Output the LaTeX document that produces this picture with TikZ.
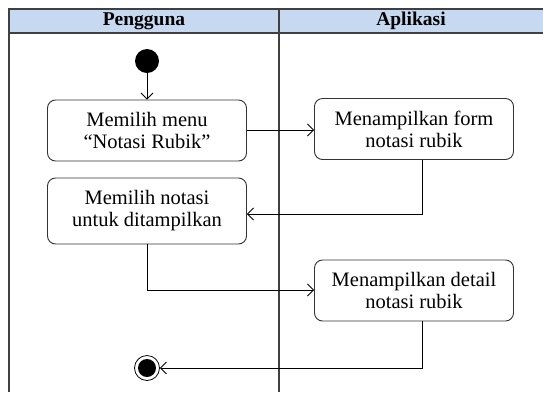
\documentclass[tikz,border=0pt]{standalone}
\usepackage{fontspec}
\setmainfont{Liberation Serif}
\usetikzlibrary{arrows.meta}
\definecolor{hdrblue}{HTML}{C6D9F1}
\definecolor{laneline}{HTML}{404040}
\begin{document}
\begin{tikzpicture}[x=1pt,y=-1pt,
  lane/.style={draw=laneline,line width=1.3pt},
  act/.style={draw=black!80,line width=0.9pt,rounded corners=8pt,fill=white,
    minimum width=199pt,minimum height=61pt,align=center,inner sep=0pt,
    font=\fontsize{20.5}{22}\selectfont},
  flow/.style={draw=black,line width=0.8pt,-{Straight Barb[length=6pt,width=12pt,line width=0.8pt]}},
  hdr/.style={font=\fontsize{19.5}{22}\selectfont\bfseries}]
\useasboundingbox (0,0) rectangle (543,392);
% header band
\fill[hdrblue] (9,9) rectangle (543,33);
\draw[lane] (543,9) -- (9,9) -- (9,392);
\draw[lane] (9,33) -- (543,33);
\draw[lane] (279,9) -- (279,392);
\node[hdr] (hp) at (144,21) {Pengguna};
\node[hdr] (ha) at (411,21) {Aplikasi};
% nodes
\node[circle,fill=black,minimum size=24pt,inner sep=0pt] (start) at (147,61) {};
\node[act] (a1) at (147,130.5) {Memilih menu\\“Notasi Rubik”};
\node[act,minimum height=66pt] (a2) at (147,211) {Memilih notasi\\untuk ditampilkan};
\node[act] (a3) at (414,129) {Menampilkan form\\notasi rubik};
\node[act] (a4) at (414,290.5) {Menampilkan detail\\notasi rubik};
\node[circle,draw=black,line width=0.8pt,fill=white,minimum size=25pt,inner sep=0pt] (end) at (147,368) {};
\node[circle,fill=black,minimum size=18pt,inner sep=0pt] (endin) at (end.center) {};
% flows
\draw[flow] (start) -- (a1);
\draw[flow] (a1.east |- 0,130) -- (a3.west |- 0,130);
\draw[flow] (a3.south -| 422,0) |- (a2.east |- 0,214);
\draw[flow] (a2.south) |- (a4.west |- 0,290);
\draw[flow] (a4.south -| 422,0) |- (end.east);
\end{tikzpicture}
\end{document}
